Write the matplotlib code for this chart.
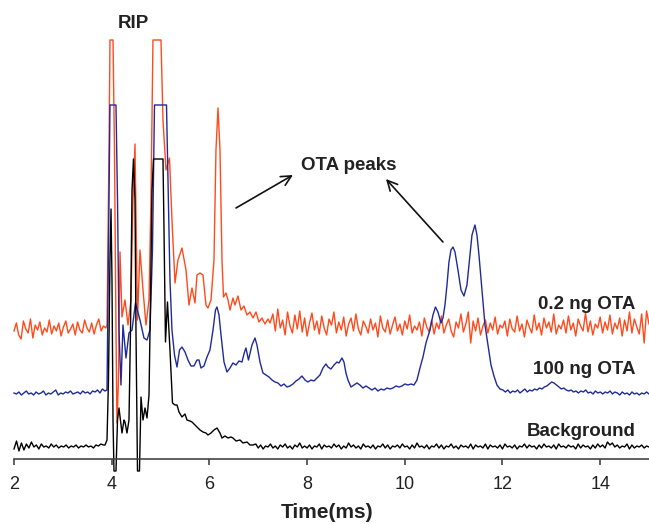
import numpy as np
import matplotlib
matplotlib.use('Agg')
import matplotlib.pyplot as plt

plt.rcParams['font.family'] = ['Liberation Sans', 'DejaVu Sans']

# Werte = Höhe über der Zeitachse (willkürliche Einheiten), Zeit in ms

# --- 0.2 ng OTA (rot) ---
red_pre = [128, 136, 124, 120, 138, 130, 126, 140, 121, 134,
           129, 137, 124, 131, 127, 139, 125, 133, 128, 136,
           123, 132, 138, 126, 130, 135, 124, 137, 129, 126,
           139, 131, 127, 136, 125, 134, 140, 128, 133, 131]
red_t = [3.904, 3.945, 3.965, 4.027, 4.057, 4.088, 4.108, 4.139, 4.170, 4.211,
         4.272, 4.334, 4.395, 4.436, 4.477, 4.528, 4.579, 4.641, 4.702, 4.764,
         4.804, 4.845, 5.009, 5.050, 5.112, 5.183, 5.234, 5.296, 5.357, 5.439,
         5.521, 5.582, 5.644, 5.705, 5.746, 5.808, 5.869, 5.930, 5.971, 6.033,
         6.094, 6.135, 6.176, 6.217, 6.258, 6.289, 6.340, 6.381, 6.422, 6.483,
         6.524, 6.585, 6.647, 6.708, 6.770, 6.831, 6.893, 6.954, 7.015, 7.077,
         7.138, 7.200, 7.241]
red_v = [134, 309, 419, 419, 309, 129, 36, 79, 207, 142,
         159, 134, 159, 259, 315, 139, 209, 169, 134, 159,
         259, 419, 419, 339, 289, 301, 239, 176, 199, 211,
         189, 154, 171, 156, 184, 186, 184, 154, 151, 159,
         199, 309, 351, 309, 199, 162, 166, 159, 149, 161,
         154, 163, 149, 153, 144, 147, 141, 147, 137, 141,
         135, 140, 136]
red_post = [145, 128, 150, 131, 139, 124, 147, 133, 126, 144,
            130, 148, 127, 141, 123, 136, 146, 129, 138, 125,
            143, 131, 124, 140, 134, 147, 126, 137, 129, 142,
            123, 135, 141, 128, 145, 130, 124, 138, 133, 126,
            140, 129, 136, 122, 143, 131, 127, 139, 125, 134,
            142, 128, 135, 124, 138, 130, 144, 126, 133, 129,
            137, 123, 141, 132, 127, 139, 125, 136, 130, 143,
            126, 134, 140, 128, 122, 137, 131, 145, 127, 135,
            147, 116, 138, 128, 141, 124, 133, 139, 126, 136,
            129, 142, 125, 134, 131, 138, 123, 140, 130, 127,
            143, 128, 135, 122, 139, 132, 126, 144, 129, 136,
            124, 141, 131, 137, 127, 145, 125, 134, 130, 139,
            126, 143, 129, 136, 123, 140, 133, 128, 146, 127,
            138, 124, 135, 131, 142, 126, 137, 129, 144, 125,
            136, 130, 141, 123, 139, 128, 147, 126, 140, 132,
            125, 145, 116, 148, 135]

# --- 100 ng OTA (blau) ---
blue_pre = [66, 65, 67, 64, 66, 68, 65, 66, 64, 67,
            65, 66, 68, 64, 66, 65, 67, 69, 64, 66,
            65, 67, 66, 68, 65, 66, 67, 65, 68, 66,
            67, 65, 68, 67, 69, 66, 70, 68]
blue_t = [3.904, 3.934, 3.965, 4.088, 4.119, 4.149, 4.190, 4.231, 4.293, 4.354,
          4.416, 4.487, 4.579, 4.661, 4.723, 4.784, 4.835, 4.876, 5.122, 5.153,
          5.193, 5.234, 5.286, 5.337, 5.388, 5.439, 5.501, 5.562, 5.623, 5.685,
          5.746, 5.787, 5.828, 5.889, 5.951, 6.012, 6.074, 6.125, 6.156, 6.197,
          6.238, 6.299, 6.360, 6.422, 6.483, 6.545, 6.606, 6.667, 6.719, 6.749,
          6.800, 6.872, 6.933, 6.974, 7.036, 7.097, 7.159, 7.220, 7.282, 7.343,
          7.404, 7.466, 7.527, 7.589, 7.650, 7.711, 7.773, 7.834, 7.895, 7.957,
          8.018, 8.080, 8.141, 8.203, 8.264, 8.325, 8.387, 8.428, 8.489, 8.551,
          8.612, 8.653, 8.714, 8.755, 8.796, 8.837, 8.899, 8.960, 9.021, 9.082,
          9.144, 9.205, 9.267, 9.328, 9.390, 9.451, 9.513, 9.574, 9.636, 9.697,
          9.758, 9.820, 9.881, 9.943, 10.004, 10.065, 10.127, 10.188, 10.250, 10.311,
          10.373, 10.434, 10.516, 10.577, 10.628, 10.679, 10.741, 10.782, 10.823, 10.864,
          10.905, 10.946, 10.987, 11.028, 11.089, 11.151, 11.212, 11.273, 11.325, 11.376,
          11.437, 11.478, 11.519, 11.580, 11.642, 11.703, 11.765, 11.826, 11.887, 11.949,
          12.010]
blue_v = [69, 209, 354, 354, 259, 129, 74, 134, 101, 126,
          129, 156, 139, 121, 119, 129, 209, 354, 354, 279,
          179, 129, 104, 92, 109, 112, 107, 99, 93, 93,
          99, 99, 91, 93, 102, 109, 129, 149, 152, 144,
          124, 97, 87, 91, 96, 94, 98, 97, 107, 111,
          99, 114, 121, 114, 97, 86, 84, 82, 79, 77,
          76, 73, 75, 72, 73, 75, 78, 80, 83, 79,
          77, 79, 78, 81, 84, 91, 95, 92, 90, 94,
          97, 96, 101, 97, 86, 79, 72, 74, 76, 74,
          71, 73, 71, 69, 71, 68, 70, 69, 71, 70,
          71, 73, 72, 73, 75, 74, 75, 74, 79, 91,
          102, 116, 129, 144, 152, 147, 136, 141, 154, 174,
          197, 209, 212, 207, 189, 169, 163, 174, 199, 224,
          234, 224, 204, 169, 134, 114, 94, 83, 74, 70,
          69]
blue_post = [67, 69, 66, 68, 67, 69, 66, 68, 70, 67,
             69, 68, 70, 69, 71, 70, 72, 73, 75, 77,
             76, 74, 72, 70, 71, 69, 68, 69, 67, 68,
             66, 68, 67, 69, 66, 67, 65, 68, 66, 67,
             65, 67, 66, 68, 65, 67, 66, 64, 67, 65,
             66, 64, 67, 65, 66, 64, 66, 65, 67, 65]

# --- Background (schwarz) ---
black_pre = [10, 18, 8, 16, 9, 15, 11, 17, 12, 14,
             10, 15, 12, 13, 11, 15, 12, 14, 11, 13,
             12, 14, 11, 13, 12, 14, 11, 13, 12, 14,
             12, 13, 11, 14, 13, 15, 14]
black_t = [3.863, 3.904, 3.934, 3.965, 3.986, 4.006, 4.027, 4.047, 4.088, 4.119,
           4.149, 4.190, 4.211, 4.252, 4.272, 4.313, 4.354, 4.385, 4.416, 4.446,
           4.477, 4.497, 4.528, 4.569, 4.600, 4.641, 4.682, 4.723, 4.764, 4.794,
           4.825, 4.856, 5.050, 5.071, 5.101, 5.142, 5.193, 5.245, 5.296, 5.337,
           5.378, 5.439, 5.501, 5.541, 5.603, 5.644, 5.705, 5.746, 5.808, 5.869,
           5.930, 5.971, 6.033, 6.094, 6.156, 6.217, 6.258, 6.319, 6.381, 6.442,
           6.483, 6.545, 6.627, 6.688, 6.770, 6.831, 6.893]
black_v = [14, 19, 79, 199, 250, 179, 39, -12, -12, 39,
           51, 34, 26, 39, 37, 26, 39, 129, 269, 300,
           259, 129, -12, -12, 62, 39, 51, 41, 64, 159,
           269, 300, 300, 229, 117, 157, 109, 56, 54, 54,
           47, 42, 45, 39, 38, 37, 34, 32, 29, 27,
           26, 24, 26, 29, 31, 26, 21, 23, 21, 22,
           21, 18, 19, 16, 17, 14, 14]
black_post = [15, 11, 14, 10, 13, 12, 15, 11, 13, 10,
              14, 12, 15, 11, 13, 10, 14, 12, 16, 11,
              13, 11, 14, 10, 13, 12, 15, 10, 14, 12,
              13, 11, 15, 12, 14, 10, 13, 11, 16, 12,
              14, 11, 13, 10, 15, 12, 13, 11, 14, 10,
              13, 12, 15, 11, 14, 10, 13, 12, 14, 11,
              15, 12, 13, 10, 14, 11, 16, 12, 13, 11,
              14, 10, 13, 12, 15, 11, 14, 10, 13, 12,
              15, 11, 13, 10, 14, 12, 13, 11, 15, 10,
              14, 12, 13, 11, 15, 10, 14, 12, 13, 11,
              14, 10, 15, 12, 13, 11, 14, 10, 13, 12,
              15, 11, 14, 12, 13, 10, 14, 11, 15, 12,
              13, 11, 14, 10, 15, 12, 13, 11, 14, 12,
              13, 10, 15, 11, 14, 12, 13, 10, 14, 11,
              15, 12, 14, 11, 17, 14, 16, 12, 14, 11,
              13, 12, 15, 10, 14, 11, 13, 12, 14, 11,
              13, 12]


def trace(pre, t0, t1, mid_t, mid_v, post, t2, t3):
    # Rauschen vor/nach dem Peakbereich ist gleichmäßig abgetastet
    t = np.concatenate([np.linspace(t0, t1, len(pre)), mid_t, np.linspace(t2, t3, len(post))])
    v = np.concatenate([pre, mid_v, post])
    return t, v


rt, rv = trace(red_pre, 2.0, 3.88, red_t, red_v, red_post, 7.3, 15.0)
bt, bv = trace(blue_pre, 2.0, 3.86, blue_t, blue_v, blue_post, 12.06, 15.0)
kt, kv = trace(black_pre, 2.0, 3.83, black_t, black_v, black_post, 6.95, 15.0)

fig = plt.figure(figsize=(6.49, 5.24), dpi=100)
ax = fig.add_axes([14 / 649, 45 / 524, 635 / 649, 479 / 524])

ax.plot(rt, rv, color='#ff4a1c', lw=1.0, clip_on=False)
ax.plot(bt, bv, color='#1f2a9a', lw=1.0, clip_on=False)
ax.plot(kt, kv, color='black', lw=1.0, clip_on=False)

ax.set_xlim(2, 15)
ax.set_ylim(-20, 459)

for s in ['left', 'right', 'top']:
    ax.spines[s].set_visible(False)
ax.spines['bottom'].set_position(('data', 0))
ax.spines['bottom'].set_color('#444444')
ax.spines['bottom'].set_linewidth(1.2)
ax.set_yticks([])
ax.set_xticks([2, 4, 6, 8, 10, 12, 14])
ax.tick_params(axis='x', direction='out', length=4, width=1.2, color='#444444',
               labelsize=13, pad=8.5, labelcolor='#222222')

fig.text(327 / 649, 6 / 524, 'Time(ms)', ha='center', va='baseline',
         fontsize=15, fontweight='bold', color='#222222')

lab = dict(fontsize=13.5, fontweight='bold', color='#222222', va='baseline')
ax.text(4.436, 431, 'RIP', ha='center', **lab)
ax.text(8.847, 289, 'OTA peaks', ha='center', **lab)
ax.text(14.73, 150, '0.2 ng OTA', ha='right', **lab)
ax.text(14.73, 85, '100 ng OTA', ha='right', **lab)
ax.text(14.73, 23, 'Background', ha='right', **lab)

arrow = dict(arrowstyle='->', color='#111111', lw=1.2, mutation_scale=18,
             shrinkA=0, shrinkB=0)
ax.annotate('', xy=(7.711, 284), xytext=(6.545, 251), arrowprops=arrow)
ax.annotate('', xy=(9.615, 280), xytext=(10.782, 217), arrowprops=arrow)

plt.savefig('out.png', dpi=100)
